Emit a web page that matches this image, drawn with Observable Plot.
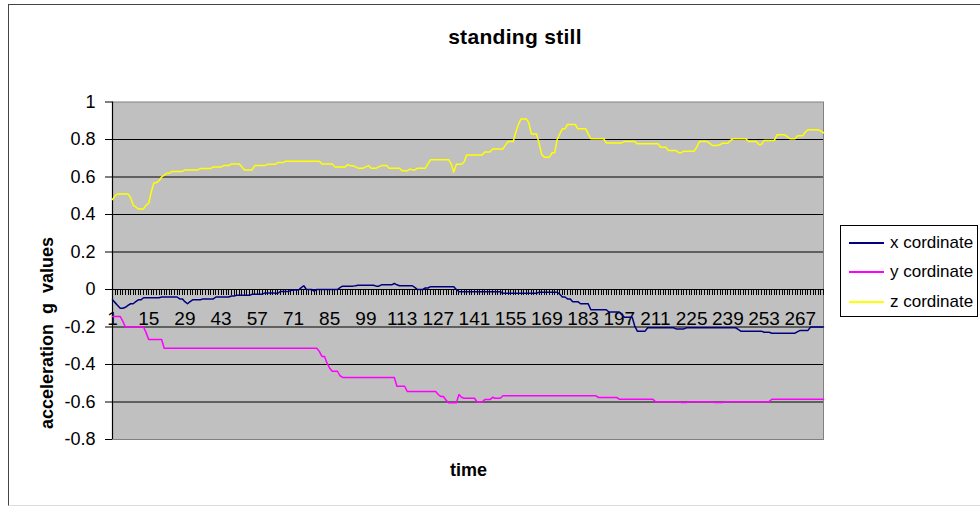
<!DOCTYPE html>
<html>
<head>
<meta charset="utf-8">
<script src="https://cdn.jsdelivr.net/npm/d3@7"></script>
<script src="https://cdn.jsdelivr.net/npm/@observablehq/plot@0.6"></script>
<style>
  html, body { margin: 0; padding: 0; background: #fff; overflow: hidden; }
  #chart { position: relative; width: 980px; height: 508px; font-family: "Liberation Sans", Arial, sans-serif; color: #000; }
  #chart svg { position: absolute; left: 0; top: 0; }
  .border { position: absolute; left: 8px; top: 4px; width: 990px; height: 502px; border-left: 1px solid #444; border-top: 1px solid #444; border-bottom: 1px solid #ddd; box-sizing: border-box; }
  .title { position: absolute; left: 515px; top: 25.5px; transform: translateX(-50%); font-size: 21px; font-weight: bold; line-height: 21px; letter-spacing: 0.3px; white-space: nowrap; }
  .ytitle { position: absolute; left: 46.5px; top: 333px; transform: translate(-50%, -50%) rotate(-90deg); font-size: 18px; font-weight: bold; line-height: 18px; white-space: pre; }
  .xtitle { position: absolute; left: 468.5px; top: 461px; transform: translateX(-50%); font-size: 18px; font-weight: bold; line-height: 18px; }
  .legend { position: absolute; left: 840px; top: 225px; width: 138px; height: 92px; border: 1px solid #000; box-sizing: border-box; background: #fff; }
  .legend .row { position: absolute; left: 8px; height: 20px; display: flex; align-items: center; font-size: 17px; white-space: nowrap; }
  .legend .swatch { width: 35px; height: 2px; margin-right: 6px; }
</style>
</head>
<body>
<div id="chart">
  <div class="border"></div>
</div>
<script>
// Accelerometer readings (g) while standing still, one per time sample.
const xCord = [
  -0.055, -0.07, -0.085, -0.10, -0.10, -0.095, -0.085, -0.076, -0.076, -0.065,
  -0.055, -0.055, -0.044, -0.044, -0.044, -0.044, -0.044, -0.044, -0.044, -0.04,
  -0.04, -0.04, -0.04, -0.04, -0.04, -0.04, -0.05, -0.05, -0.065, -0.076,
  -0.065, -0.055, -0.055, -0.055, -0.055, -0.05, -0.05, -0.05, -0.05, -0.05,
  -0.04, -0.04, -0.04, -0.04, -0.04, -0.04, -0.035, -0.035, -0.031, -0.031,
  -0.031, -0.031, -0.031, -0.031, -0.025, -0.025, -0.025, -0.025, -0.025, -0.018,
  -0.018, -0.018, -0.018, -0.02, -0.02, -0.01, -0.01, -0.01, -0.01, -0.005,
  -0.003, -0.003, -0.003, 0.01, 0.02, 0, 0, 0, -0.008, 0,
  0, 0, 0, 0, 0, 0, 0, 0, 0.01, 0.018,
  0.018, 0.018, 0.018, 0.018, 0.02, 0.023, 0.023, 0.023, 0.023, 0.023,
  0.023, 0.023, 0.018, 0.018, 0.025, 0.025, 0.025, 0.025, 0.025, 0.032,
  0.025, 0.02, 0.02, 0.02, 0.02, 0.02, 0.02, 0.01, 0, 0,
  0, 0.008, 0.008, 0.015, 0.015, 0.015, 0.015, 0.015, 0.015, 0.015,
  0.015, 0.015, 0.015, 0, -0.012, -0.012, -0.012, -0.012, -0.012, -0.012,
  -0.012, -0.012, -0.012, -0.012, -0.012, -0.012, -0.012, -0.012, -0.012, -0.012,
  -0.012, -0.02, -0.02, -0.02, -0.02, -0.02, -0.02, -0.02, -0.02, -0.02,
  -0.02, -0.02, -0.02, -0.02, -0.02, -0.015, -0.015, -0.015, -0.015, -0.015,
  -0.015, -0.015, -0.015, -0.025, -0.04, -0.04, -0.05, -0.05, -0.065, -0.065,
  -0.065, -0.076, -0.076, -0.076, -0.076, -0.108, -0.108, -0.108, -0.108, -0.108,
  -0.108, -0.108, -0.12, -0.12, -0.12, -0.12, -0.12, -0.135, -0.148, -0.148,
  -0.148, -0.148, -0.195, -0.222, -0.222, -0.222, -0.222, -0.204, -0.204, -0.204,
  -0.204, -0.204, -0.204, -0.204, -0.204, -0.204, -0.204, -0.204, -0.21, -0.21,
  -0.21, -0.21, -0.204, -0.204, -0.204, -0.204, -0.204, -0.204, -0.204, -0.204,
  -0.204, -0.204, -0.204, -0.204, -0.204, -0.204, -0.204, -0.204, -0.204, -0.204,
  -0.204, -0.204, -0.213, -0.222, -0.222, -0.222, -0.222, -0.222, -0.222, -0.222,
  -0.222, -0.222, -0.228, -0.228, -0.228, -0.233, -0.233, -0.233, -0.233, -0.233,
  -0.233, -0.233, -0.233, -0.233, -0.233, -0.225, -0.218, -0.218, -0.218, -0.218,
  -0.20, -0.20, -0.20, -0.20, -0.20, -0.20
];

const yCord = [
  -0.144, -0.144, -0.144, -0.144, -0.17, -0.20, -0.20, -0.20, -0.20, -0.20,
  -0.20, -0.20, -0.20, -0.23, -0.267, -0.267, -0.267, -0.267, -0.267, -0.267,
  -0.313, -0.313, -0.313, -0.313, -0.313, -0.313, -0.313, -0.313, -0.313, -0.313,
  -0.313, -0.313, -0.313, -0.313, -0.313, -0.313, -0.313, -0.313, -0.313, -0.313,
  -0.313, -0.313, -0.313, -0.313, -0.313, -0.313, -0.313, -0.313, -0.313, -0.313,
  -0.313, -0.313, -0.313, -0.313, -0.313, -0.313, -0.313, -0.313, -0.313, -0.313,
  -0.313, -0.313, -0.313, -0.313, -0.313, -0.313, -0.313, -0.313, -0.313, -0.313,
  -0.313, -0.313, -0.313, -0.313, -0.313, -0.313, -0.313, -0.313, -0.313, -0.313,
  -0.33, -0.357, -0.357, -0.393, -0.42, -0.436, -0.436, -0.436, -0.46, -0.469,
  -0.469, -0.469, -0.469, -0.469, -0.469, -0.469, -0.469, -0.469, -0.469, -0.469,
  -0.469, -0.469, -0.469, -0.469, -0.469, -0.469, -0.469, -0.469, -0.469, -0.469,
  -0.516, -0.516, -0.516, -0.516, -0.544, -0.544, -0.544, -0.544, -0.544, -0.544,
  -0.544, -0.544, -0.544, -0.544, -0.544, -0.544, -0.56, -0.571, -0.571, -0.59,
  -0.604, -0.604, -0.604, -0.604, -0.56, -0.575, -0.58, -0.58, -0.58, -0.58,
  -0.58, -0.60, -0.60, -0.60, -0.587, -0.587, -0.587, -0.575, -0.58, -0.58,
  -0.58, -0.567, -0.567, -0.567, -0.567, -0.567, -0.567, -0.567, -0.567, -0.567,
  -0.567, -0.567, -0.567, -0.567, -0.567, -0.567, -0.567, -0.567, -0.567, -0.567,
  -0.567, -0.567, -0.567, -0.567, -0.567, -0.567, -0.567, -0.567, -0.567, -0.567,
  -0.567, -0.567, -0.567, -0.567, -0.567, -0.567, -0.567, -0.567, -0.576, -0.576,
  -0.576, -0.576, -0.576, -0.576, -0.576, -0.576, -0.585, -0.585, -0.585, -0.585,
  -0.585, -0.585, -0.585, -0.585, -0.585, -0.585, -0.585, -0.585, -0.585, -0.585,
  -0.598, -0.598, -0.598, -0.598, -0.598, -0.598, -0.598, -0.598, -0.598, -0.598,
  -0.603, -0.603, -0.603, -0.598, -0.598, -0.598, -0.598, -0.598, -0.598, -0.598,
  -0.598, -0.598, -0.598, -0.603, -0.603, -0.603, -0.603, -0.598, -0.598, -0.598,
  -0.598, -0.598, -0.598, -0.598, -0.598, -0.598, -0.598, -0.598, -0.598, -0.598,
  -0.598, -0.598, -0.598, -0.598, -0.598, -0.585, -0.585, -0.585, -0.585, -0.585,
  -0.585, -0.585, -0.585, -0.585, -0.585, -0.585, -0.585, -0.585, -0.585, -0.585,
  -0.585, -0.585, -0.585, -0.585, -0.585, -0.585
];

const zCord = [
  0.48, 0.50, 0.51, 0.51, 0.51, 0.51, 0.51, 0.49, 0.45, 0.44,
  0.43, 0.43, 0.43, 0.45, 0.46, 0.52, 0.57, 0.57, 0.58, 0.60,
  0.61, 0.62, 0.62, 0.63, 0.63, 0.63, 0.63, 0.63, 0.638, 0.638,
  0.638, 0.638, 0.638, 0.638, 0.645, 0.645, 0.645, 0.645, 0.645, 0.654,
  0.654, 0.654, 0.654, 0.661, 0.661, 0.661, 0.670, 0.670, 0.670, 0.670,
  0.655, 0.638, 0.638, 0.638, 0.638, 0.661, 0.661, 0.661, 0.661, 0.661,
  0.668, 0.668, 0.668, 0.668, 0.677, 0.677, 0.677, 0.684, 0.684, 0.684,
  0.684, 0.684, 0.684, 0.684, 0.684, 0.684, 0.684, 0.684, 0.684, 0.684,
  0.684, 0.670, 0.670, 0.670, 0.670, 0.670, 0.654, 0.654, 0.654, 0.654,
  0.654, 0.666, 0.660, 0.660, 0.654, 0.647, 0.647, 0.647, 0.654, 0.661,
  0.647, 0.647, 0.647, 0.654, 0.661, 0.661, 0.661, 0.647, 0.647, 0.647,
  0.647, 0.647, 0.633, 0.633, 0.633, 0.642, 0.638, 0.638, 0.647, 0.647,
  0.647, 0.647, 0.670, 0.692, 0.692, 0.692, 0.692, 0.692, 0.692, 0.692,
  0.692, 0.670, 0.626, 0.668, 0.668, 0.668, 0.680, 0.718, 0.718, 0.718,
  0.718, 0.718, 0.718, 0.718, 0.733, 0.733, 0.733, 0.750, 0.750, 0.750,
  0.750, 0.750, 0.770, 0.789, 0.789, 0.789, 0.840, 0.880, 0.910, 0.910,
  0.910, 0.890, 0.830, 0.830, 0.830, 0.780, 0.720, 0.706, 0.706, 0.706,
  0.729, 0.729, 0.800, 0.830, 0.857, 0.857, 0.880, 0.880, 0.880, 0.880,
  0.857, 0.857, 0.857, 0.857, 0.830, 0.804, 0.804, 0.804, 0.804, 0.804,
  0.804, 0.782, 0.782, 0.782, 0.782, 0.782, 0.782, 0.782, 0.789, 0.789,
  0.789, 0.789, 0.789, 0.777, 0.777, 0.777, 0.777, 0.777, 0.777, 0.777,
  0.777, 0.777, 0.759, 0.759, 0.759, 0.741, 0.741, 0.741, 0.741, 0.730,
  0.730, 0.738, 0.738, 0.738, 0.738, 0.738, 0.760, 0.789, 0.789, 0.789,
  0.789, 0.780, 0.768, 0.768, 0.768, 0.773, 0.780, 0.780, 0.780, 0.795,
  0.804, 0.804, 0.804, 0.804, 0.804, 0.804, 0.789, 0.789, 0.789, 0.789,
  0.773, 0.773, 0.795, 0.795, 0.795, 0.795, 0.795, 0.825, 0.825, 0.825,
  0.825, 0.815, 0.804, 0.804, 0.804, 0.820, 0.820, 0.820, 0.840, 0.852,
  0.852, 0.852, 0.852, 0.852, 0.845, 0.836
];

// Sample numbers along the category axis
const time = d3.range(1, zCord.length + 1);
const timeLabels = [1, 15, 29, 43, 57, 71, 85, 99, 113, 127, 141, 155, 169, 183, 197, 211, 225, 239, 253, 267];
const yTicks = [-0.8, -0.6, -0.4, -0.2, 0, 0.2, 0.4, 0.6, 0.8, 1];
const gridLines = [-0.6, -0.4, -0.2, 0.2, 0.4, 0.6, 0.8];

const seriesNames = ["x cordinate", "y cordinate", "z cordinate"];
const seriesColors = ["#000080", "#FF00FF", "#FFFF00"];
const seriesValues = [xCord, yCord, zCord];

const fmt = d => String(+d.toFixed(1));

const svg = Plot.plot({
  width: 980,
  height: 508,
  marginLeft: 112,
  marginRight: 157,
  marginTop: 101.5,
  marginBottom: 69,
  x: {domain: [1, time.length], axis: null},
  y: {domain: [-0.8, 1], axis: null},
  style: {fontFamily: "'Liberation Sans', Arial, sans-serif", background: "transparent", color: "#000", overflow: "visible"},
  marks: [
    Plot.frame({fill: "#C0C0C0", stroke: "#808080"}),
    Plot.ruleY(gridLines, {stroke: "#000", strokeWidth: 1.2}),
    // category tick marks hanging below the zero axis
    Plot.ruleX(time, {x: d => d, y1: 0, y2: -0.03, stroke: "#000", strokeWidth: 1, shapeRendering: "crispEdges"}),
    Plot.ruleY([0], {stroke: "#000", strokeWidth: 1.2}),
    Plot.ruleX([1], {stroke: "#000", strokeWidth: 1.2}),
    Plot.axisY(yTicks, {anchor: "left", tickSize: 7, tickPadding: 10, fontSize: 18, tickFormat: fmt, label: null}),
    Plot.text(timeLabels, {x: d => d, y: 0, dy: 29, text: d => String(d), fontSize: 19}),
    ...seriesValues.map((vals, k) =>
      Plot.line(vals, {x: (d, i) => time[i], y: d => d, stroke: seriesColors[k], strokeWidth: 1.5})
    )
  ]
});

const chart = document.getElementById("chart");
chart.appendChild(svg);

const title = document.createElement("div");
title.className = "title";
title.textContent = "standing still";
chart.appendChild(title);

const yTitle = document.createElement("div");
yTitle.className = "ytitle";
yTitle.textContent = "acceleration  g  values";
chart.appendChild(yTitle);

const xTitle = document.createElement("div");
xTitle.className = "xtitle";
xTitle.textContent = "time";
chart.appendChild(xTitle);

const legend = document.createElement("div");
legend.className = "legend";
seriesNames.forEach((name, k) => {
  const row = document.createElement("div");
  row.className = "row";
  row.style.top = (6.5 + k * 29.5) + "px";
  const sw = document.createElement("span");
  sw.className = "swatch";
  sw.style.background = seriesColors[k];
  const label = document.createElement("span");
  label.textContent = name;
  row.appendChild(sw);
  row.appendChild(label);
  legend.appendChild(row);
});
chart.appendChild(legend);
</script>
</body>
</html>
